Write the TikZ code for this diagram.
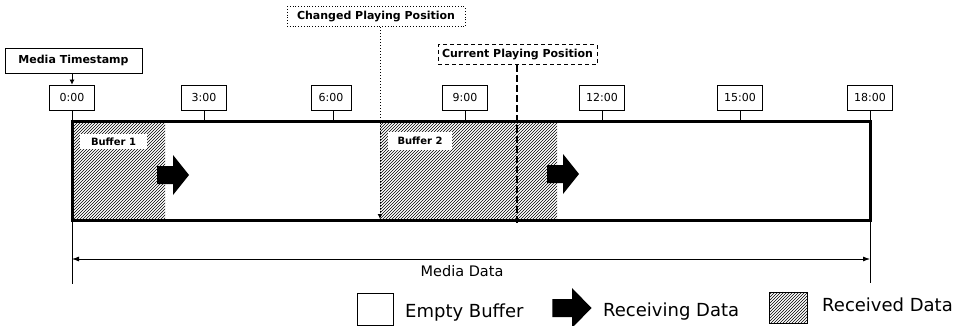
\documentclass[tikz,border=0pt]{standalone}
\usepackage{fontspec}
\setmainfont{DejaVu Sans}
\usetikzlibrary{patterns,arrows.meta}

\begin{document}
\begin{tikzpicture}[x=1pt,y=-1pt,
  tlabel/.style={draw, line width=0.8pt, fill=white, minimum width=45pt, minimum height=25pt,
    inner sep=0pt, font=\fontsize{11}{13}\selectfont},
  callout/.style={draw, line width=0.8pt, fill=white, inner sep=0pt,
    font=\bfseries\fontsize{11}{13}\selectfont},
  buflabel/.style={fill=white, inner sep=0pt, font=\bfseries\fontsize{10}{12}\selectfont},
  hatch/.style={pattern=north east lines},
  tickline/.style={line width=0.8pt},
  legendtext/.style={anchor=base west, inner sep=0pt, font=\fontsize{18}{21}\selectfont},
  recv/.pic={\fill[black] (-16,-9) -- (0,-9) -- (0,-20) -- (16,0) -- (0,20) -- (0,9) -- (-16,9) -- cycle;}
]
\useasboundingbox (0,0) rectangle (963,326);

% received (hatched) parts of the two buffers
\path[hatch] (72,122) rectangle (165,220);
\path[hatch] (380,122) rectangle (557,220);

% buffer frame
\node[draw, line width=3pt, minimum width=798pt, minimum height=98pt, inner sep=0pt] (frame) at (471,171) {};

% buffer names
\node[buflabel, minimum width=67pt, minimum height=15pt] (b1) at (113.5,141.5) {Buffer 1};
\node[buflabel, minimum width=64pt, minimum height=18pt] (b2) at (420,141) {Buffer 2};

% data being received
\pic at (173,175) {recv};
\pic at (563,174) {recv};

% time marks
\node[tlabel] (t0) at (72,97.5) {0:00};
\node[tlabel] (t1) at (204,97.5) {3:00};
\node[tlabel, minimum width=40pt] (t2) at (331,97.5) {6:00};
\node[tlabel] (t3) at (465,97.5) {9:00};
\node[tlabel] (t4) at (602,97.5) {12:00};
\node[tlabel] (t5) at (740,97.5) {15:00};
\node[tlabel] (t6) at (870,97.5) {18:00};

\coordinate (e0) at (72,284);
\coordinate (e6) at (870,283);
\draw[tickline] (t0.south) -- (e0);
\draw[tickline] (t6.south) -- (e6);
\foreach \t in {t1,t3,t4,t5}
  \draw[tickline] (\t.south) -- (\t.south |- frame.north);
\draw[tickline] (t2.south -| 333,0) -- (333,121);

% media timestamp
\node[callout, minimum width=137pt, minimum height=25pt] (ts) at (73.5,60.5) {Media Timestamp};
\draw[line width=0.8pt, -{Latex[length=5pt,width=5pt]}] (ts.south -| t0.north) -- (t0.north);

% changed playing position
\node[callout, dotted, line width=1pt, minimum width=178pt, minimum height=20pt] (cpp) at (376,17) {Changed Playing Position};
\coordinate (cppEnd) at (380,219);
\draw[dotted, line width=1pt, -{Latex[length=5pt,width=5pt]}] (cpp.south -| cppEnd) -- (cppEnd);

% current playing position
\node[callout, dash pattern=on 4pt off 3pt, line width=1pt, minimum width=159pt, minimum height=20pt] (cur) at (517.5,55) {Current Playing Position};
\coordinate (curEnd) at (517,223);
\draw[dash pattern=on 7pt off 3pt, line width=2pt] (cur.south -| curEnd) -- (curEnd);

% media data extent
\coordinate (mdL) at (72,259);
\coordinate (mdR) at (870,259);
\draw[line width=0.8pt, {Latex[length=7pt,width=5pt]}-{Latex[length=7pt,width=5pt]}] (mdL) -- (mdR);
\node[font=\fontsize{14.5}{17}\selectfont, inner sep=0pt] (md) at (462,271.5) {Media Data};

% legend
\node[draw, line width=0.8pt, minimum width=36pt, minimum height=32pt, inner sep=0pt] (lgE) at (375,309) {};
\node[legendtext] (lgEt) at (405,317) {Empty Buffer};
\pic[xscale=1.22] at (572,308) {recv};
\node[legendtext] (lgRt) at (603,316) {Receiving Data};
\node[draw, line width=0.8pt, hatch, minimum width=38pt, minimum height=31pt, inner sep=0pt] (lgH) at (788,307.5) {};
\node[legendtext] (lgHt) at (822,311) {Received Data};
\end{tikzpicture}
\end{document}
